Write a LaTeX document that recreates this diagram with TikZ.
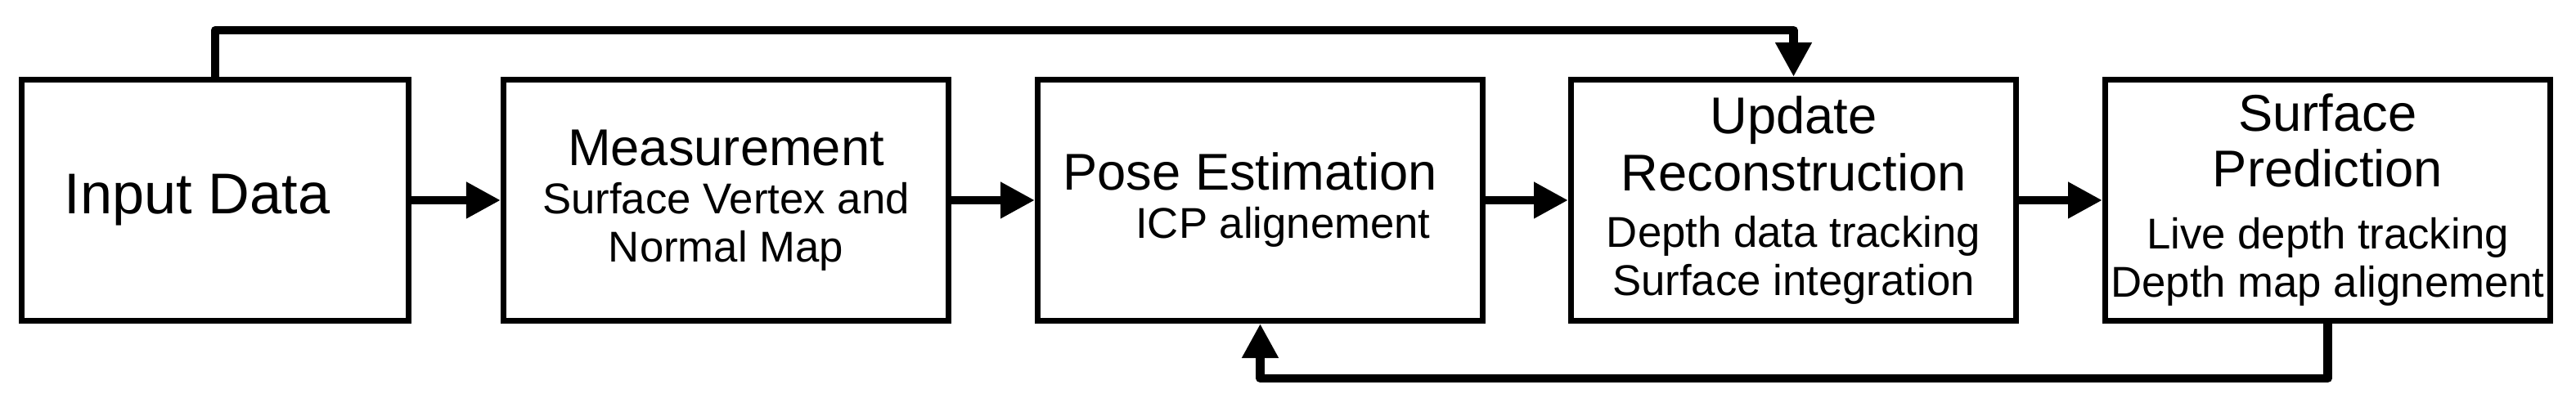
\documentclass[tikz,border=0pt]{standalone}
\usepackage{fontspec}
\setmainfont{Liberation Sans}
\usetikzlibrary{arrows.meta}
\usetikzlibrary{positioning}
\tikzset{
    block/.style={
           rectangle,
           draw=black, line width=2pt,
           minimum width=5.44cm,
           minimum height=2.95cm,
           inner sep=0pt,
           align=center,
           font=\fontsize{15}{16.8}\selectfont,
           },
    flow/.style={
           line width=3pt,
           line join=round,
           -{Triangle[length=4.2mm,width=4.2mm]},
           },
}
\newcommand{\blocktitle}[1]{{\fontsize{18}{19.8}\selectfont #1}}

\begin{document}
\begin{tikzpicture}

 \useasboundingbox (0,0) rectangle (31.49,5.09);

 % Input Data, narrower than the other blocks
 \node[block, minimum width=4.73cm] (Input Data) at (2.63,2.64)
 {{\fontsize{20}{22}\selectfont Input Data}\hspace*{0.44cm}};

 % Measurement
 \node[block,
  right of=Input Data,
  node distance=6.245cm] (Measurement)
 {\blocktitle{Measurement}\\
  Surface Vertex and\\
  Normal Map};

 % Pose Estimation
 \node[block,
  right of=Measurement,
  node distance=6.53cm] (Pose Estimation)
 {\blocktitle{Pose Estimation\hspace*{0.25cm}}\\
  \hspace*{0.56cm}ICP alignement};

 % Update Reconstruction
 \node[block,
  right of=Pose Estimation,
  node distance=6.52cm] (Update)
 {\blocktitle{Update}\\[0.11cm]
  \blocktitle{Reconstruction}\\[0.1cm]
  Depth data tracking\\
  Surface integration};

 % Surface Prediction
 \node[block,
  right of=Update,
  node distance=6.53cm] (Prediction)
 {\blocktitle{Surface}\\[0.09cm]
  \blocktitle{Prediction}\\[0.17cm]
  Live depth tracking\\
  Depth map alignement};

 % the forward chain
 \draw[flow] (Input Data.east) -- (Measurement.west);
 \draw[flow] (Measurement.east) -- (Pose Estimation.west);
 \draw[flow] (Pose Estimation.east) -- (Update.west);
 \draw[flow] (Update.east) -- (Prediction.west);

 % loops over the top and under the bottom
 \draw[flow] (Input Data.north) -- ++(0,0.57) -| (Update.north);
 \draw[flow] (Prediction.south) -- ++(0,-0.67) -| (Pose Estimation.south);

\end{tikzpicture}
\end{document}
